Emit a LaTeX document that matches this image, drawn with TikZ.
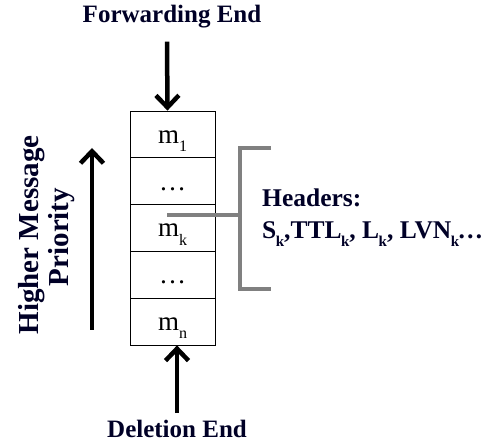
\documentclass[tikz,border=0pt]{standalone}
\usepackage{fontspec}
\setmainfont{Liberation Serif}
\usetikzlibrary{arrows.meta}
\newcommand{\lowsub}[1]{\raisebox{-0.3em}{\fontsize{16}{16}\selectfont #1}}
\newcommand{\hsub}[1]{\kern-0.5pt\raisebox{-0.3em}{\fontsize{15}{15}\selectfont #1}}
\begin{document}
\begin{tikzpicture}[x=1pt,y=-1pt,
  cell/.style={draw=black, line width=0.8pt, minimum width=85pt, minimum height=46.8pt, inner sep=0pt,
    text height=18pt, text depth=0pt, font=\fontsize{27}{30}\selectfont},
  title/.style={font=\fontsize{25}{30}\selectfont\bfseries, inner sep=0pt, text=black!85!blue},
  bigarrow/.style={line width=4.5pt, -{Straight Barb[length=12pt,width=23pt,line width=4.5pt]}},
  bracket/.style={draw=black!50, line width=4pt, line cap=butt, line join=miter}
]
\useasboundingbox (0,0) rectangle (487,443);
\node[cell] (c1) at (172.5,134.4) {m\lowsub{1}};
\node[cell] (c2) at (172.5,181.2) {\dots};
\node[cell] (c3) at (172.5,228.0) {m\lowsub{k}};
\node[cell] (c4) at (172.5,274.8) {\dots};
\node[cell] (c5) at (172.5,321.6) {m\lowsub{n}};

\node[title] (fwd) at (172,17) {Forwarding End};
\node[title] (del) at (177,429) {Deletion End};

\draw[bigarrow] ([shift={(-5,13)}]fwd.south) -- ([xshift=-5pt]c1.north);
\draw[bigarrow] ([shift={(0,-7)}]del.north) -- ([xshift=4.5pt]c5.south);

\node[title, rotate=90, font=\fontsize{29}{30}\selectfont\bfseries] (hm) at (32,235) {Higher Message};
\node[title, rotate=90, font=\fontsize{29}{30}\selectfont\bfseries] (pr) at (62,237) {Priority};
\coordinate (pbot) at (92,330);
\coordinate (ptop) at (92,148);
\draw[bigarrow] (pbot) -- (ptop);

\coordinate (stub) at (167,215);
\coordinate (bm) at (240,215);
\draw[bracket] (271,148) -- (240,148) -- (240,289) -- (271,289);
\draw[bracket] (stub) -- (bm);

\node[title, anchor=north west, align=left, font=\fontsize{25.5}{32}\selectfont\bfseries] (hdr) at (262,189)
  {Headers:\\S\hsub{k},TTL\hsub{k}, L\hsub{k}, LVN\hsub{k}\kern-1.5pt\dots};
\end{tikzpicture}
\end{document}
